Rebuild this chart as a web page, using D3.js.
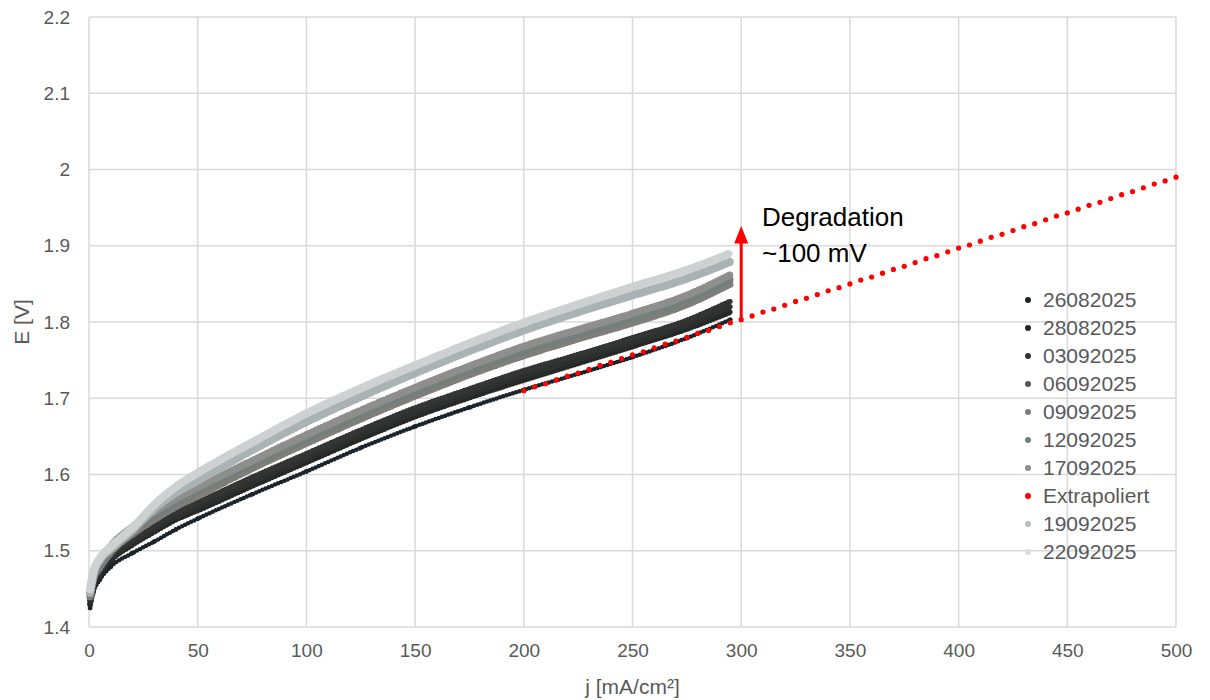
<!DOCTYPE html>
<html>
<head>
<meta charset="utf-8">
<script src="https://cdn.jsdelivr.net/npm/d3@7"></script>
<style>
  html, body { margin: 0; padding: 0; background: #fff; }
  svg { display: block; font-family: "Liberation Sans", Arial, sans-serif; }
</style>
</head>
<body>
<div id="chart"></div>
<script>
// Measurement grid (current density, mA/cm²)
const jValues = [0.5, 2, 5, 10, 20, 30, 40, 50, 75, 100, 125, 150, 175, 200, 225, 250, 275, 295];

// Cell voltage per measurement day [V]
const e26082025 = [1.425, 1.445, 1.462, 1.479, 1.497, 1.512, 1.528, 1.542, 1.574, 1.604, 1.635, 1.663, 1.688, 1.711, 1.732, 1.754, 1.779, 1.803];
const e28082025 = [1.430, 1.452, 1.468, 1.487, 1.508, 1.525, 1.541, 1.553, 1.585, 1.616, 1.647, 1.676, 1.701, 1.724, 1.746, 1.768, 1.791, 1.813];
const e03092025 = [1.435, 1.455, 1.472, 1.490, 1.511, 1.529, 1.545, 1.558, 1.590, 1.621, 1.652, 1.681, 1.706, 1.730, 1.751, 1.773, 1.796, 1.820];
const e06092025 = [1.440, 1.460, 1.476, 1.494, 1.515, 1.533, 1.550, 1.563, 1.596, 1.627, 1.658, 1.687, 1.712, 1.736, 1.757, 1.779, 1.802, 1.827];
const e09092025 = [1.440, 1.462, 1.478, 1.498, 1.522, 1.541, 1.558, 1.572, 1.608, 1.641, 1.673, 1.703, 1.731, 1.756, 1.778, 1.799, 1.823, 1.850];
const e12092025 = [1.445, 1.465, 1.482, 1.502, 1.527, 1.546, 1.563, 1.578, 1.613, 1.647, 1.679, 1.709, 1.737, 1.762, 1.784, 1.805, 1.829, 1.856];
const e17092025 = [1.445, 1.468, 1.486, 1.506, 1.531, 1.551, 1.568, 1.583, 1.618, 1.652, 1.684, 1.714, 1.742, 1.768, 1.790, 1.811, 1.835, 1.862];
const e19092025 = [1.445, 1.470, 1.488, 1.502, 1.527, 1.555, 1.576, 1.592, 1.632, 1.669, 1.702, 1.733, 1.762, 1.789, 1.813, 1.835, 1.857, 1.879];
const e22092025 = [1.450, 1.472, 1.490, 1.505, 1.530, 1.560, 1.584, 1.602, 1.642, 1.680, 1.713, 1.743, 1.772, 1.799, 1.823, 1.846, 1.868, 1.890];

// Extrapolated line
const extraJ = [200, 205, 210, 215, 220, 225, 230, 235, 240, 245, 250, 255, 260, 265, 270, 275, 280, 285, 290, 295,
  300, 305, 310, 315, 320, 325, 330, 335, 340, 345, 350, 355, 360, 365, 370, 375, 380, 385, 390, 395,
  400, 405, 410, 415, 420, 425, 430, 435, 440, 445, 450, 455, 460, 465, 470, 475, 480, 485, 490, 495, 500];
const extraE = [1.710, 1.715, 1.719, 1.724, 1.729, 1.733, 1.738, 1.743, 1.747, 1.752, 1.757, 1.761, 1.766, 1.771, 1.775, 1.780, 1.785, 1.789, 1.794, 1.799,
  1.803, 1.808, 1.813, 1.817, 1.822, 1.827, 1.831, 1.836, 1.841, 1.845, 1.850, 1.855, 1.859, 1.864, 1.869, 1.873, 1.878, 1.883, 1.887, 1.892,
  1.897, 1.901, 1.906, 1.911, 1.915, 1.920, 1.925, 1.929, 1.934, 1.939, 1.943, 1.948, 1.953, 1.957, 1.962, 1.967, 1.971, 1.976, 1.981, 1.985, 1.990];

const legendNames = ['26082025', '28082025', '03092025', '06092025', '09092025', '12092025', '17092025', 'Extrapoliert', '19092025', '22092025'];
const xTicks = [0, 50, 100, 150, 200, 250, 300, 350, 400, 450, 500];
const yTicks = [1.4, 1.5, 1.6, 1.7, 1.8, 1.9, 2.0, 2.1, 2.2];

const series = [
  { name: '26082025', values: e26082025, color: '#1b232b', width: 4.5 },
  { name: '28082025', values: e28082025, color: '#262828', width: 6 },
  { name: '03092025', values: e03092025, color: '#2c3130', width: 6 },
  { name: '06092025', values: e06092025, color: '#333535', width: 6 },
  { name: '09092025', values: e09092025, color: '#7f7e78', width: 7.5 },
  { name: '12092025', values: e12092025, color: '#737f7d', width: 7.5 },
  { name: '17092025', values: e17092025, color: '#8e8e8c', width: 7.5 },
  { name: '19092025', values: e19092025, color: '#a9b3b3', width: 8.5 },
  { name: '22092025', values: e22092025, color: '#cdd1d1', width: 8.5 }
];
const colorOf = {
  '26082025': '#1b232b', '28082025': '#252727', '03092025': '#2d3332', '06092025': '#555555',
  '09092025': '#7e7d77', '12092025': '#6f7d7b', '17092025': '#909090', 'Extrapoliert': '#ff0000',
  '19092025': '#b4bcbc', '22092025': '#dcdcdc'
};

const width = 1210, height = 700;
const margin = { top: 17, right: 34, bottom: 73, left: 89 };

const svg = d3.select('#chart').append('svg')
  .attr('width', width)
  .attr('height', height);

const x = d3.scaleLinear().domain([0, 500]).range([margin.left, width - margin.right]);
const y = d3.scaleLinear().domain([1.4, 2.2]).range([height - margin.bottom, margin.top]);

// Grid
const grid = svg.append('g').attr('stroke', '#d9d9d9').attr('stroke-width', 1.5);
grid.selectAll('line.v').data(xTicks).enter().append('line')
  .attr('x1', d => x(d)).attr('x2', d => x(d))
  .attr('y1', y(1.4)).attr('y2', y(2.2));
grid.selectAll('line.h').data(yTicks).enter().append('line')
  .attr('x1', x(0)).attr('x2', x(500))
  .attr('y1', d => y(d)).attr('y2', d => y(d));

// Axes (labels only, the grid makes the frame)
const xAxis = svg.append('g')
  .attr('transform', `translate(0,${y(1.4)})`)
  .call(d3.axisBottom(x).tickValues(xTicks).tickSize(0).tickPadding(17).tickFormat(d3.format('d')));
const yAxis = svg.append('g')
  .attr('transform', `translate(${x(0)},0)`)
  .call(d3.axisLeft(y).tickValues(yTicks).tickSize(0).tickPadding(19).tickFormat(d => d3.format('')(+d.toFixed(1))));
[xAxis, yAxis].forEach(a => {
  a.select('.domain').remove();
  a.selectAll('text').attr('fill', '#595959').style('font-size', '19px');
});

svg.append('text')
  .attr('x', (x(0) + x(500)) / 2).attr('y', 694)
  .attr('text-anchor', 'middle').attr('fill', '#595959').style('font-size', '21px')
  .text('j [mA/cm²]');
svg.append('text')
  .attr('transform', `translate(29,${(y(1.4) + y(2.2)) / 2}) rotate(-90)`)
  .attr('text-anchor', 'middle').attr('fill', '#595959').style('font-size', '21px')
  .text('E [V]');

// Dense dot bands: a round-capped dashed line mimics the tightly packed markers
const line = d3.line().x(d => x(d[0])).y(d => y(d[1])).curve(d3.curveMonotoneX);

const plot = svg.append('g');
function drawSeries(s) {
  const pts = jValues.map((j, i) => [j, s.values[i]]);
  plot.append('path')
    .datum(pts)
    .attr('d', line)
    .attr('fill', 'none')
    .attr('stroke', s.color)
    .attr('stroke-width', s.width)
    .attr('stroke-linecap', 'round')
    .attr('stroke-dasharray', '0,3.4');
  plot.append('g').selectAll('circle').data(pts).enter().append('circle')
    .attr('cx', d => x(d[0])).attr('cy', d => y(d[1]))
    .attr('r', 2.4).attr('fill', s.color);
}
series.slice(0, 7).forEach(drawSeries);

// Extrapolated points
plot.append('g').selectAll('circle').data(extraJ).enter().append('circle')
  .attr('cx', d => x(d))
  .attr('cy', (d, i) => y(extraE[i]))
  .attr('r', 2.6)
  .attr('fill', '#ff0000');

series.slice(7).forEach(drawSeries);

// Degradation arrow
const ax = x(300);
svg.append('line')
  .attr('x1', ax).attr('x2', ax)
  .attr('y1', y(1.801)).attr('y2', y(1.905))
  .attr('stroke', '#ff0000').attr('stroke-width', 3);
svg.append('path')
  .attr('d', `M${ax - 7},${y(1.903)} L${ax + 7},${y(1.903)} L${ax},${y(1.926)} Z`)
  .attr('fill', '#ff0000');
svg.append('text')
  .attr('x', 762).attr('y', 226)
  .attr('fill', '#000').style('font-size', '26px')
  .text('Degradation');
svg.append('text')
  .attr('x', 762).attr('y', 262)
  .attr('fill', '#000').style('font-size', '26px')
  .text('~100 mV');

// Legend
const legend = svg.append('g').attr('transform', 'translate(1028,300)');
const rows = legend.selectAll('g').data(legendNames).enter().append('g')
  .attr('transform', (d, i) => `translate(0,${i * 28})`);
rows.append('circle').attr('r', 3).attr('fill', d => colorOf[d]);
rows.append('text')
  .attr('x', 15).attr('dy', '0.35em')
  .attr('fill', '#595959').style('font-size', '21px')
  .text(d => d);
</script>
</body>
</html>
